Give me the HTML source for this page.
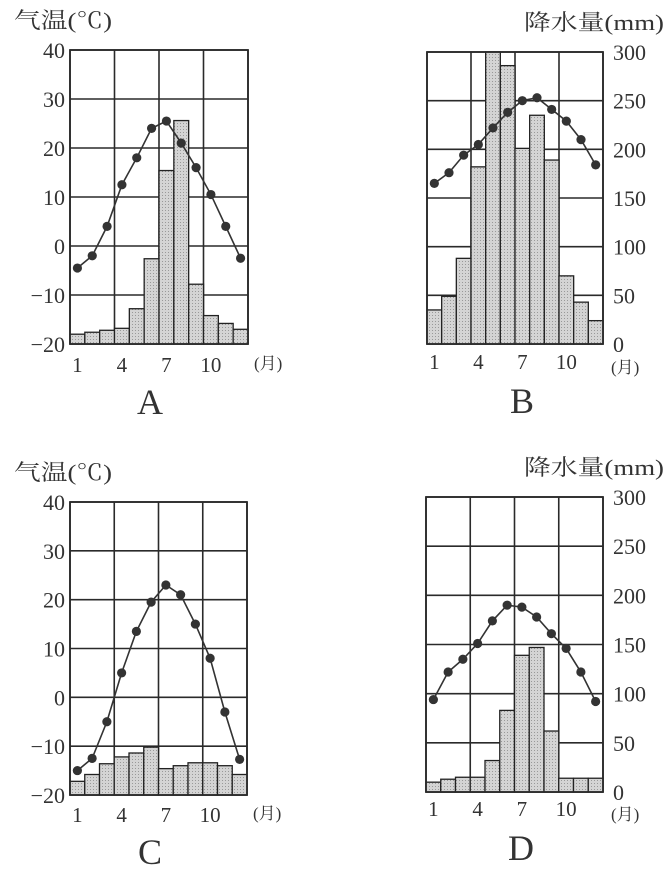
<!DOCTYPE html>
<html><head><meta charset="utf-8"><style>
html,body{margin:0;padding:0;background:#fff;}
svg{display:block;}
text{font-family:"Liberation Serif","Noto Serif CJK SC",serif;fill:#333;}
</style></head><body>
<svg id="s" width="669" height="885" xmlns="http://www.w3.org/2000/svg">
<defs>
<pattern id="dots" width="3" height="3" patternUnits="userSpaceOnUse">
<rect width="3" height="3" fill="#d4d4d4"/><rect width="1" height="1" fill="#999"/>
</pattern>
</defs>
</svg>
<script>
const s=document.getElementById('s');
function el(t,a,txt){const e=document.createElementNS('http://www.w3.org/2000/svg',t);for(const k in a)e.setAttribute(k,a[k]);if(txt!==undefined)e.textContent=txt;s.appendChild(e);return e;}
function chart(c){
 const {x0,x1,y0,y1}=c;const w=x1-x0,h=y1-y0;const cw=w/12;
 for(let i=0;i<=6;i++){const y=y0+i*h/6;el('line',{x1:x0,x2:x1,y1:y,y2:y,stroke:'#2a2a2a','stroke-width':1.6});}
 for(let i=0;i<=4;i++){const x=x0+i*w/4;el('line',{x1:x,x2:x,y1:y0,y2:y1,stroke:'#2a2a2a','stroke-width':1.6});}
 c.p.forEach((v,i)=>{const bh=v/300*h;el('rect',{x:x0+i*cw,y:y1-bh,width:cw,height:bh,fill:'url(#dots)',stroke:'#222','stroke-width':1.3});});
 el('rect',{x:x0,y:y0,width:w,height:h,fill:'none',stroke:'#2a2a2a','stroke-width':1.8});
 const pts=c.t.map((f,i)=>[x0+(i+0.5)*cw,y1-f*h]);
 el('polyline',{points:pts.map(p=>p.join(',')).join(' '),fill:'none',stroke:'#333','stroke-width':1.6});
 pts.forEach(p=>el('circle',{cx:p[0],cy:p[1],r:4.6,fill:'#333'}));
 [1,4,7,10].forEach(m=>el('text',{x:x0+(m-0.5)*cw,y:c.my,'font-size':21,'text-anchor':'middle'},m));
}
function tempChart(c){
 const t=c.t.map(v=>(v+20)/60);chart({...c,t});
 const labels=['40','30','20','10','0','\u221210','\u221220'];
 labels.forEach((l,i)=>el('text',{x:c.x0-5,y:c.y0+i*(c.y1-c.y0)/6+8,'font-size':22,'text-anchor':'end'},l));
 el('text',{x:14,y:c.y0-22,'font-size':22,textLength:98,lengthAdjust:'spacingAndGlyphs'},'气温(℃)');
 el('text',{x:c.x1+6,y:c.my-3,'font-size':17},'(月)');
 el('text',{x:c.x0+80,y:c.my+42,'font-size':36,'text-anchor':'middle'},c.L);
}
function mmChart(c){
 const t=c.t.map(v=>v/300);chart({...c,t});
 ['300','250','200','150','100','50','0'].forEach((l,i)=>el('text',{x:c.x1+10,y:c.y0+i*(c.y1-c.y0)/6+8,'font-size':22},l));
 el('text',{x:524,y:c.y0-22,'font-size':22,textLength:140,lengthAdjust:'spacingAndGlyphs'},'降水量(mm)');
 el('text',{x:c.x1+8,y:c.my+4,'font-size':17},'(月)');
 el('text',{x:c.x0+95,y:c.my+44,'font-size':36,'text-anchor':'middle'},c.L);
}
tempChart({x0:70,x1:248,y0:50,y1:344,my:372,L:'A',
 p:[10,12,14,16,36,87,177,228,61,29,21,15],
 t:[-4.5,-2,4,12.5,18,24,25.5,21,16,10.5,4,-2.5]});
mmChart({x0:427,x1:603,y0:52,y1:344,my:369,L:'B',
 p:[35,49,88,182,300,286,201,235,189,70,43,24],
 t:[165,176,194,205,222,238,250,253,241,229,210,184]});
tempChart({x0:70,x1:247,y0:502,y1:795,my:822,L:'C',
 p:[14,21,32,39,43,49,27,30,33,33,30,21],
 t:[-15,-12.5,-5,5,13.5,19.5,23,21,15,8,-3,-12.7]});
mmChart({x0:426,x1:603,y0:497,y1:792,my:816,L:'D',
 p:[10,13,15,15,32,83,139,147,62,14,14,14],
 t:[94,122,135,151,174,190,188,178,161,146,122,92]});
</script>
</body></html>
